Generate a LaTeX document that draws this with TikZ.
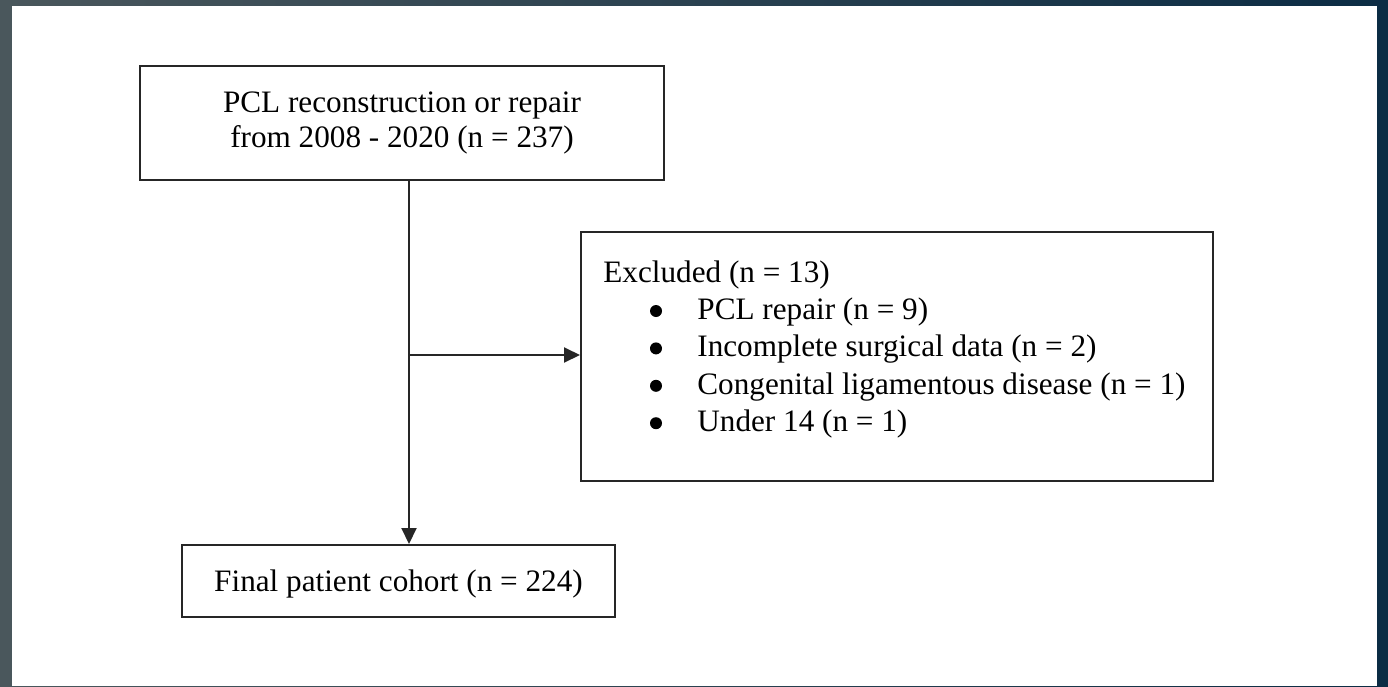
\documentclass[tikz,border=0pt]{standalone}
\usepackage{fontspec}
\setmainfont{Liberation Serif}
\usetikzlibrary{arrows.meta, positioning, calc}
\definecolor{bgleft}{HTML}{4A575C}
\definecolor{bgright}{HTML}{0B2C44}
\definecolor{edge}{HTML}{262626}
\tikzset{
  box/.style={rectangle, draw=edge, line width=1pt, fill=white,
              align=center, inner sep=0pt,
              font=\fontsize{15.6}{17.5}\selectfont},
  txt/.style={align=left, inner sep=0pt, anchor=north west,
              font=\fontsize{15.6}{18.7}\selectfont},
  arr/.style={-{Triangle[length=8pt, width=7.5pt]}, draw=edge, line width=1pt},
}
\newcommand{\exitem}[1]{\hspace*{47pt}#1}

\begin{document}
\begin{tikzpicture}[x=0.5pt, y=-0.5pt]
  \useasboundingbox (0,0) rectangle (1388,686);
  % backdrop and page
  \shade[left color=bgleft, right color=bgright] (0,0) rectangle (1388,686);
  \fill[white] (12,6) rectangle (1377,686);

  \node[box, minimum width=262pt, minimum height=57pt] (start) at (402,123)
    {PCL reconstruction or repair\\from 2008 - 2020 (n = 237)};
  \node[box, minimum width=316pt, minimum height=124.5pt] (excl) at (897,356.5) {};
  \node[txt] (exlist) at (603,260)
    {Excluded (n = 13)\\
     \exitem{PCL repair (n = 9)}\\
     \exitem{Incomplete surgical data (n = 2)}\\
     \exitem{Congenital ligamentous disease (n = 1)}\\
     \exitem{Under 14 (n = 1)}};
  % list bullets
  \foreach \i in {0,...,3}
    \fill[black] ($(exlist.north west)+(53,{51+37.4*\i})$) circle (3pt);
  \node[box, minimum width=216.5pt, minimum height=36pt,
        text height=14pt, text depth=3.5pt] (final) at (398.5,581)
    {Final patient cohort (n = 224)};

  \coordinate (split) at (409,355);
  \draw[arr] (start.south -| split) -- (final.north -| split);
  \draw[arr] (split) -- (excl.west |- split);
\end{tikzpicture}
\end{document}
